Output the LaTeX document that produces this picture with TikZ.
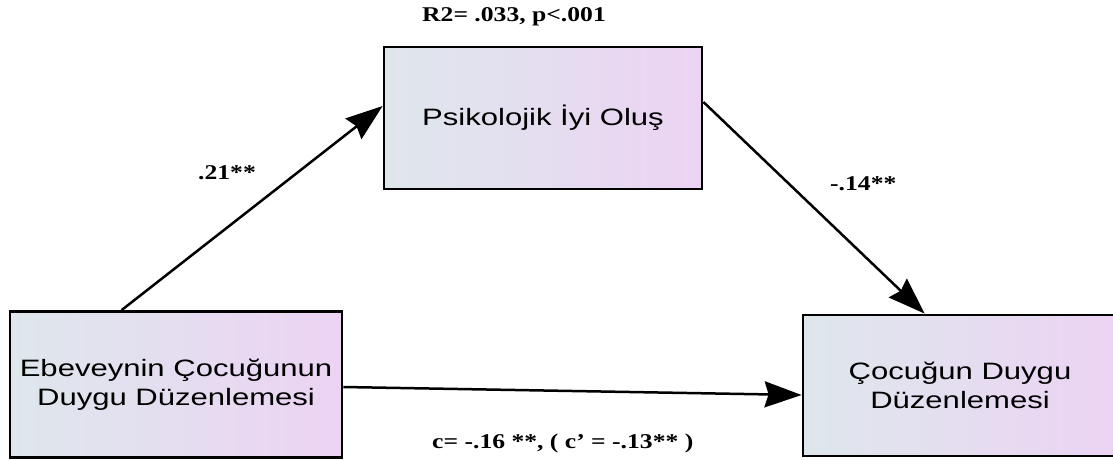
\documentclass[tikz,border=0pt]{standalone}
\usepackage{fontspec}
\setmainfont{Liberation Serif}
\newfontfamily\boxfont[FakeStretch=1.31]{Liberation Sans}
\newfontfamily\labelfont[FakeStretch=1.22]{Liberation Serif}
\usetikzlibrary{arrows.meta}
\definecolor{shadeL}{RGB}{222,231,236}
\definecolor{shadeR}{RGB}{236,211,244}
\tikzset{
  varbox/.style={draw=black, line width=2.8pt, left color=shadeL, right color=shadeR,
    inner sep=0pt, align=center, text=black,
    font=\boxfont\fontsize{23.7}{29}\selectfont},
  path/.style={draw=black, line width=2.5pt,
    -{Stealth[length=37pt, width=26pt, inset=4pt]}},
  coef/.style={inner sep=0pt, anchor=base west,
    font=\labelfont\bfseries\fontsize{21}{25}\selectfont}
}
\begin{document}
\begin{tikzpicture}[x=1pt, y=-1pt]
  \useasboundingbox (0,0) rectangle (1113,460);

  % variables
  \node[varbox, minimum width=318pt, minimum height=142pt] (M) at (543,118) {Psikolojik İyi Oluş};
  \node[varbox, minimum width=332pt, minimum height=146pt] (X) at (176,384.5) {Ebeveynin Çocuğunun\\Duygu Düzenlemesi};
  \node[varbox, minimum width=314pt, minimum height=141pt] (Y) at (960,385.5) {Çocuğun Duygu\\Düzenlemesi};

  % path end points on the box borders
  \coordinate (a1s) at ([xshift=113pt]X.north west);
  \coordinate (a1e) at ([yshift=12pt]M.west);
  \coordinate (b1s) at ([yshift=16pt]M.east);
  \coordinate (b1e) at ([xshift=123pt]Y.north west);
  \coordinate (c1s) at ([yshift=-2.5pt]X.east);
  \coordinate (c1e) at ([yshift=-9.5pt]Y.west);

  \draw[path] (a1s) -- (a1e);
  \draw[path] (b1s) -- (b1e);
  \draw[path] (c1s) -- (c1e);

  % coefficients
  \node[coef] (r2) at (422,22) {R2= .033, p<.001};
  \node[coef] (a) at (198,179) {.21**};
  \node[coef] (b) at (830,190) {-.14**};
  \node[coef] (c) at (432,448) {c= -.16 **, ( c’ = -.13** )};
\end{tikzpicture}
\end{document}
